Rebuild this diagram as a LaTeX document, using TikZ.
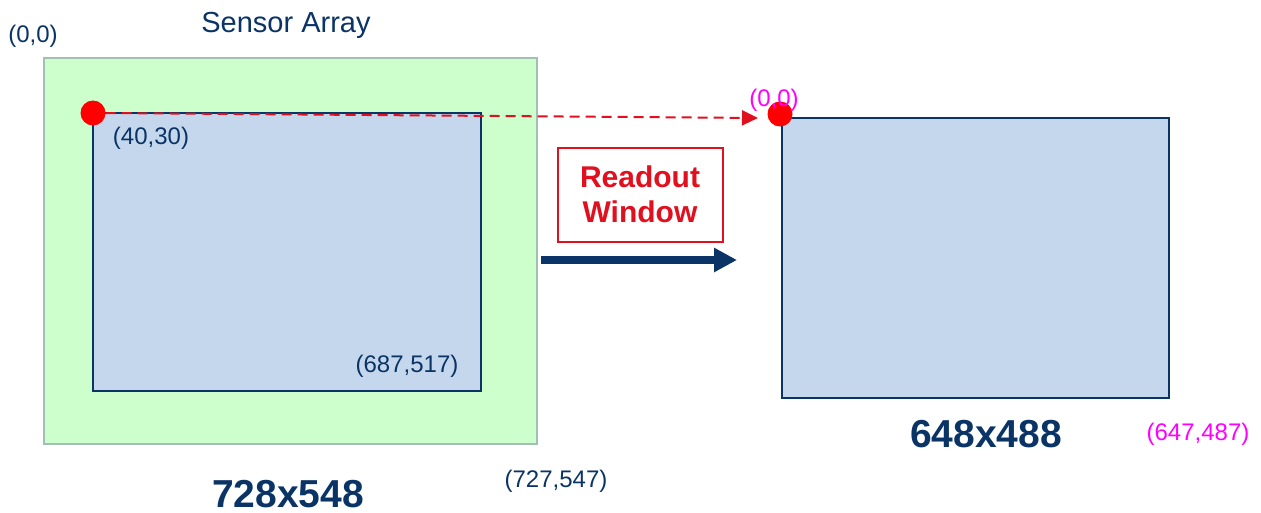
\documentclass[tikz,border=0pt]{standalone}
\usepackage{fontspec}
\setmainfont{Liberation Sans}
\usetikzlibrary{arrows.meta}
\definecolor{navy}{HTML}{0A3366}
\definecolor{sensorgreen}{HTML}{CCFFCC}
\definecolor{sensorborder}{HTML}{A3BFB3}
\definecolor{winblue}{HTML}{C5D7EC}
\definecolor{rdred}{HTML}{E0101E}
\definecolor{mag}{HTML}{FF00FF}
\tikzset{
  coord/.style={inner sep=0, anchor=base, font=\fontsize{24}{28}\selectfont, text=navy},
  magcoord/.style={coord, text=mag},
  dimlabel/.style={inner sep=0, anchor=base, font=\fontsize{39}{44}\selectfont\bfseries, text=navy},
  reddot/.style={circle, fill=red, inner sep=0, minimum size=25pt},
  winbox/.style={draw=navy, line width=1.8pt, fill=winblue},
}
\begin{document}
\begin{tikzpicture}[x=1pt, y=-1pt]
\useasboundingbox (0,0) rectangle (1261,513);
% sensor array
\filldraw[fill=sensorgreen, draw=sensorborder, line width=1.5pt] (44,58) rectangle (537,444);
\filldraw[winbox] (93,113) rectangle (481,391);
% output window
\filldraw[winbox] (782,118) rectangle (1169,398);
% dots
\node[reddot] (d1) at (93,113) {};
\node[reddot] (d2) at (780,114) {};
\coordinate (dashend) at (758,118);
\draw[rdred, line width=2pt, dash pattern=on 10pt off 6pt, -{Triangle[length=16pt, width=15pt]}] (d1.east) -- (dashend);
% readout window box
\node[draw=rdred, line width=2pt, minimum width=165pt, minimum height=94pt, inner sep=0] (rw) at (640.5,195) {};
\node[inner sep=0, anchor=base, font=\fontsize{30}{35}\selectfont\bfseries, text=rdred] (rw1) at (640,188) {Readout};
\node[inner sep=0, anchor=base, font=\fontsize{30}{35}\selectfont\bfseries, text=rdred] (rw2) at (640,223) {Window};
% big arrow
\coordinate (a0) at (541,260);
\coordinate (a1) at (737,260);
\draw[navy, line width=8pt, -{Triangle[length=23pt, width=23pt]}] (a0) -- (a1);
% labels
\node[inner sep=0, anchor=base, font=\fontsize{29}{34}\selectfont, text=navy] (title) at (286,33) {Sensor Array};
\node[coord] (c00) at (33,43) {(0,0)};
\node[coord] (c4030) at (151,145) {(40,30)};
\node[coord] (c687) at (407,372) {(687,517)};
\node[coord] (c727) at (556,487) {(727,547)};
\node[magcoord] (m00) at (774,107) {(0,0)};
\node[magcoord] (m647) at (1198,440) {(647,487)};
\node[dimlabel] (dim1) at (288,507) {728x548};
\node[dimlabel] (dim2) at (986,447) {648x488};
\end{tikzpicture}
\end{document}
